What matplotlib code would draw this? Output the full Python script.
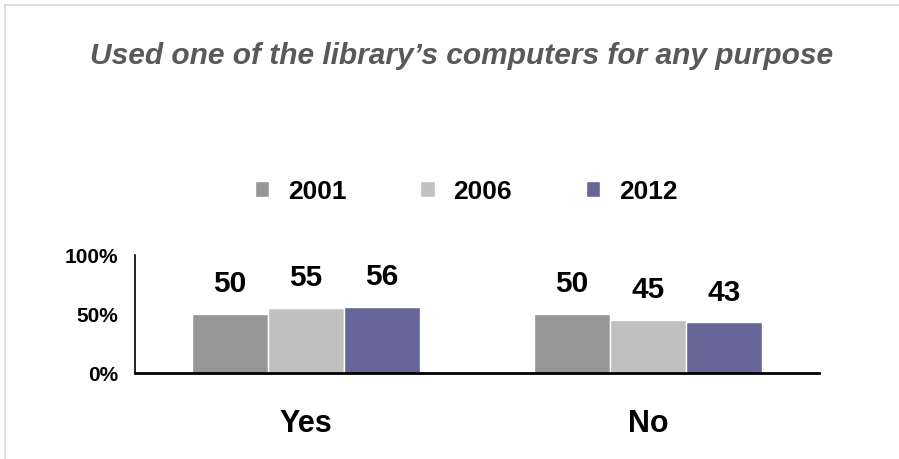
import matplotlib
matplotlib.use("Agg")
import matplotlib.pyplot as plt
import numpy as np
from matplotlib.patches import Rectangle
from matplotlib.ticker import FuncFormatter

plt.rcParams['font.family'] = ['Liberation Sans', 'DejaVu Sans']

categories = ["Yes", "No"]
years = ["2001", "2006", "2012"]
values = {
    "2001": [50, 50],
    "2006": [55, 45],
    "2012": [56, 43],
}
colors = ["#969696", "#C0C0C0", "#666699"]
title = "Used one of the library\u2019s computers for any purpose"

fig = plt.figure(figsize=(8.99, 4.60), dpi=100)
# outer frame
fig.patches.append(Rectangle((5/899, -0.1), 1.2, 1 - 6/460 + 0.1, transform=fig.transFigure,
                             fill=False, edgecolor="#D9D9D9", linewidth=1.2))

ax = fig.add_axes([135/899, 1 - 374/460, (819-135)/899, (374-256)/460])
x = np.arange(len(categories))
bw = 0.222
for i, (yr, c) in enumerate(zip(years, colors)):
    pos = x + (i - 1) * bw
    bars = ax.bar(pos, values[yr], width=bw, color=c, edgecolor="white", linewidth=1, label=yr)
    for p, v in zip(pos, values[yr]):
        ax.annotate(str(v), (p, v), xytext=(0, 12), textcoords="offset points",
                    ha="center", va="bottom", fontsize=21.5, fontweight="bold")

ax.set_xlim(-0.5, 1.5)
ax.set_ylim(0, 100)
ax.set_yticks([0, 50, 100])
ax.yaxis.set_major_formatter(FuncFormatter(lambda v, p: f"{int(v)}%"))
ax.set_xticks(x)
ax.set_xticklabels(categories, fontsize=22, fontweight="bold")
for lab in ax.get_yticklabels():
    lab.set_fontsize(15)
    lab.set_fontweight("bold")
ax.tick_params(axis="y", length=0, pad=12)
ax.tick_params(axis="x", length=0, pad=25)
ax.spines["top"].set_visible(False)
ax.spines["right"].set_visible(False)
ax.spines["left"].set_linewidth(1.2)
ax.spines["bottom"].set_linewidth(2)
ax.patch.set_visible(False)

fig.text(462/899, 1 - 56/460, title, ha="center", va="center", fontsize=21.5,
         fontstyle="italic", fontweight="bold", color="#595959")

leg = fig.legend(loc="center", bbox_to_anchor=(466/899, 1 - 192/460), ncol=3, frameon=False,
                 handlelength=0.55, handleheight=0.55, handletextpad=0.7, columnspacing=2.8,
                 prop={"size": 19, "weight": "bold"})

fig.savefig("out.png", dpi=100)
